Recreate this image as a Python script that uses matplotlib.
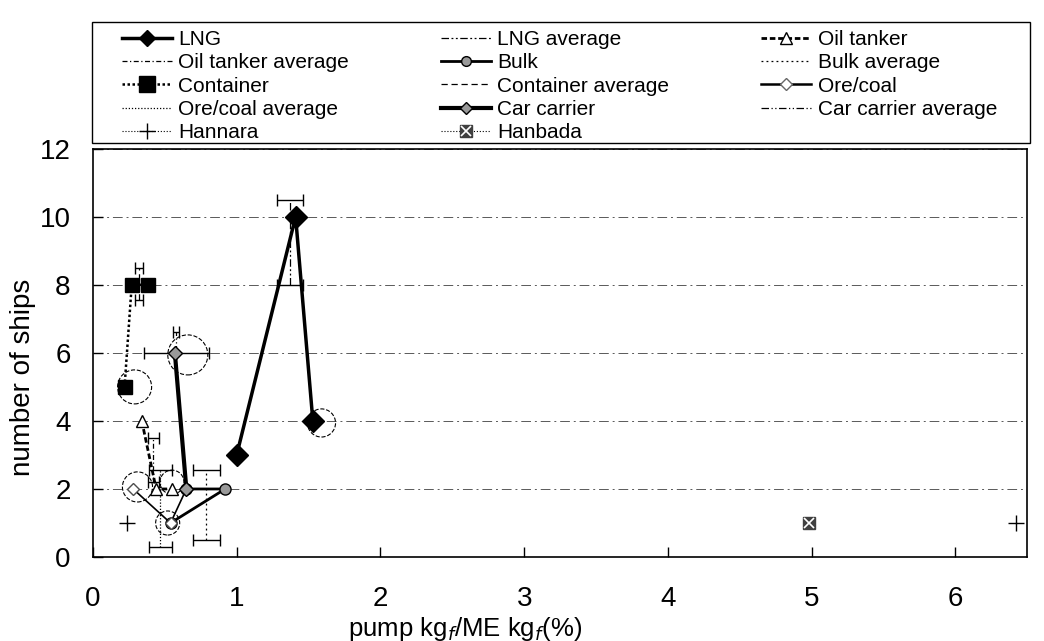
import matplotlib
matplotlib.use("Agg")
import matplotlib.pyplot as plt
from matplotlib.lines import Line2D
from matplotlib.patches import Rectangle

plt.rcParams['font.family'] = ['Liberation Sans', 'DejaVu Sans']

# ship type data (pump kg_f / ME kg_f in %, number of ships)
lng_x = [1.0, 1.41, 1.53]
lng_y = [3, 10, 4]
oil_x = [0.34, 0.44, 0.55]
oil_y = [4, 2, 2]
bulk_x = [0.65, 0.92, 0.54]
bulk_y = [2, 2, 1]
container_x = [0.22, 0.27, 0.38]
container_y = [5, 8, 8]
ore_x = [0.28, 0.54, 0.65]
ore_y = [2, 1, 2]
car_x = [0.57, 0.65]
car_y = [6, 2]
hannara_x = [0.24, 6.42]
hannara_y = [1, 1]
hanbada_x = [4.98]
hanbada_y = [1]

# averages: mean x, vertical span, half range at bottom / top
avg_names = ['LNG', 'Oil tanker', 'Bulk', 'Container', 'Ore/coal', 'Car carrier']
avg_x = [1.37, 0.42, 0.79, 0.32, 0.47, 0.58]
avg_ylo = [8.0, 2.2, 0.5, 7.55, 0.3, 6.0]
avg_yhi = [10.5, 3.5, 2.55, 8.5, 2.55, 6.6]
avg_err_lo = [0.09, 0.04, 0.095, 0.03, 0.08, 0.225]
avg_err_hi = [0.09, 0.04, 0.095, 0.03, 0.08, 0.02]

# highlighted points (dashed rings)
ring_x = [0.29, 0.66, 1.59, 0.31, 0.55, 0.52]
ring_y = [5.0, 5.94, 3.94, 2.06, 2.2, 1.0]
ring_s = [600, 830, 410, 470, 300, 300]

x_ticks = [0, 1, 2, 3, 4, 5, 6]
y_ticks = [0, 2, 4, 6, 8, 10, 12]

fig = plt.figure(figsize=(10.44, 6.41), dpi=100)
ax = fig.add_axes([0.089, 0.131, 0.895, 0.637])

avg_styles = {
    'LNG': (0, (6, 2, 1.5, 2, 1.5, 2)),
    'Oil tanker': (0, (4, 2, 1, 2)),
    'Bulk': (0, (1.5, 2.5)),
    'Container': (0, (5, 3)),
    'Ore/coal': (0, (1, 1.5)),
    'Car carrier': (0, (6, 2, 1, 2, 1, 2)),
}

ax.yaxis.grid(True, linestyle=(0, (10, 4, 2, 4)), linewidth=0.7, color='0.35')
ax.set_axisbelow(True)

for name, x, lo, hi, elo, ehi in zip(avg_names, avg_x, avg_ylo, avg_yhi, avg_err_lo, avg_err_hi):
    ax.plot([x, x], [lo, hi], color='k', lw=0.9, ls=avg_styles[name])
    ax.errorbar([x, x], [lo, hi], xerr=[elo, ehi], fmt='none', ecolor='k',
                elinewidth=1, capsize=4, capthick=1)

ax.scatter(ring_x, ring_y, s=ring_s, facecolors='none', edgecolors='k',
           linewidths=0.8, linestyles='--', zorder=2)

ax.plot(lng_x, lng_y, color='k', lw=2.5, marker='D', ms=11, zorder=4)
ax.plot(oil_x, oil_y, color='k', lw=2, ls=(0, (2, 1)), marker='^', ms=9,
        mfc='white', mec='k', zorder=4)
ax.plot(bulk_x, bulk_y, color='k', lw=2, marker='o', ms=8, mfc='0.6', mec='k', zorder=4)
ax.plot(container_x, container_y, color='k', lw=1.8, ls=(0, (1, 1)), marker='s', ms=10.5, zorder=4)
ax.plot(ore_x, ore_y, color='k', lw=1.2, marker='D', ms=6, mfc='white', mec='0.3', zorder=4)
ax.plot(car_x, car_y, color='k', lw=3, marker='D', ms=7, mfc='0.6', mec='k', zorder=4)
ax.plot(hannara_x, hannara_y, ls='none', marker='+', ms=12, mew=1, color='k', zorder=4)
ax.plot(hanbada_x, hanbada_y, ls='none', marker='s', ms=9, color='0.25', zorder=4)
ax.plot(hanbada_x, hanbada_y, ls='none', marker='x', ms=7, mew=1.2, color='white', zorder=5)

ax.set_xlim(0, 6.5)
ax.set_ylim(0, 12)
ax.set_xticks(x_ticks)
ax.set_yticks(y_ticks)
ax.tick_params(direction='in', length=7, width=1, labelsize=20, top=False, right=False)
ax.tick_params(axis='x', pad=21)
ax.tick_params(axis='y', pad=16)
for s in ax.spines.values():
    s.set_linewidth(1.2)

ax.set_xlabel('pump kg$_f$/ME kg$_f$(%)', fontsize=18.5)
ax.set_ylabel('number of ships', fontsize=20)
ax.xaxis.set_label_coords(0.398, -0.142)
ax.yaxis.set_label_coords(-0.061, 0.44)

# legend entries in reading order (row by row, three per row)
handles = [
    Line2D([], [], color='k', lw=2.5, marker='D', ms=8),
    Line2D([], [], color='k', lw=0.9, ls=avg_styles['LNG']),
    Line2D([], [], color='k', lw=2, ls=(0, (2, 1)), marker='^', ms=9, mfc='white'),
    Line2D([], [], color='k', lw=0.9, ls=avg_styles['Oil tanker']),
    Line2D([], [], color='k', lw=2, marker='o', ms=7, mfc='0.6', mec='k'),
    Line2D([], [], color='k', lw=0.9, ls=avg_styles['Bulk']),
    Line2D([], [], color='k', lw=1.8, ls=(0, (1, 1)), marker='s', ms=11),
    Line2D([], [], color='k', lw=0.9, ls=avg_styles['Container']),
    Line2D([], [], color='k', lw=1.8, marker='D', ms=6, mfc='white', mec='0.4'),
    Line2D([], [], color='k', lw=0.9, ls=avg_styles['Ore/coal']),
    Line2D([], [], color='k', lw=3, marker='D', ms=6, mfc='0.6', mec='k'),
    Line2D([], [], color='k', lw=0.9, ls=avg_styles['Car carrier']),
    Line2D([], [], color='k', lw=0.8, ls=':', marker='+', ms=11),
    (Line2D([], [], color='k', lw=0.8, ls=':', marker='s', ms=9, mfc='0.25', mec='0.25'),
     Line2D([], [], ls='none', marker='x', ms=7, mew=1.2, color='white')),
]
labels = ['LNG', 'LNG average', 'Oil tanker',
          'Oil tanker average', 'Bulk', 'Bulk average',
          'Container', 'Container average', 'Ore/coal',
          'Ore/coal average', 'Car carrier', 'Car carrier average',
          'Hannara', 'Hanbada']
# matplotlib fills legend columns first, so reorder to column-major
order = [i for c in range(3) for i in range(c, len(labels), 3)]

fig.legend([handles[i] for i in order], [labels[i] for i in order], ncol=3,
           loc='upper left', mode='expand',
           bbox_to_anchor=(0.105, 0.777, 0.862, 0.196), frameon=False,
           fontsize=15, handlelength=2.4, handletextpad=0.3,
           labelspacing=0.21, borderpad=0.1)
fig.add_artist(Rectangle((0.088, 0.777), 0.899, 0.189, transform=fig.transFigure,
                         fill=False, edgecolor='k', lw=1))

fig.savefig('out.png', dpi=100)
